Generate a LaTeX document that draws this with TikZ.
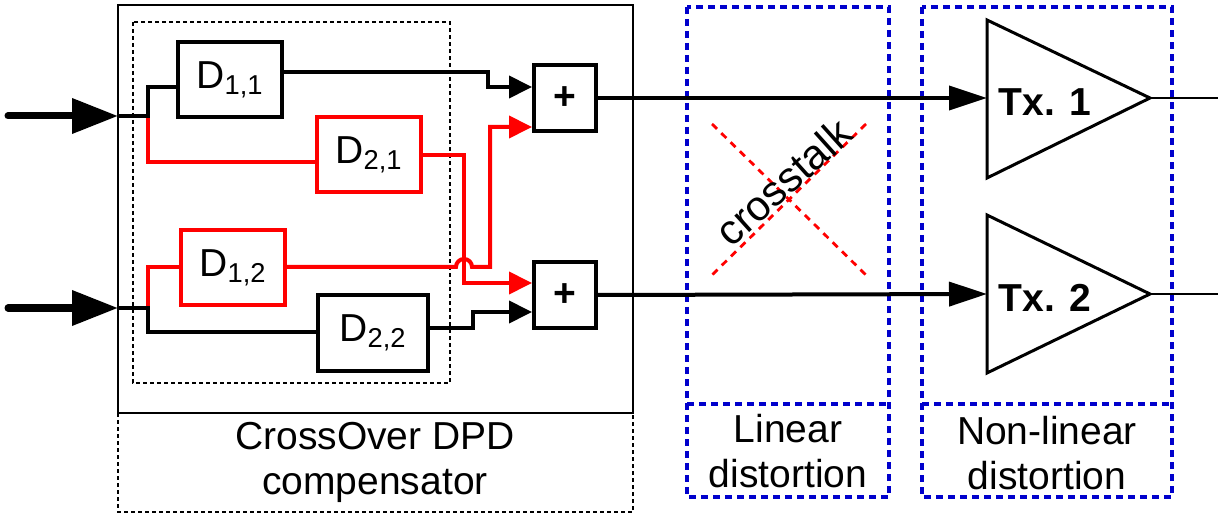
\documentclass[tikz,border=0pt]{standalone}
\usepackage{fontspec}
\setmainfont{Liberation Sans}
\usetikzlibrary{arrows.meta,calc}

\definecolor{boxblue}{RGB}{0,0,204}

\tikzset{
  wire/.style={line width=2pt},
  redwire/.style={line width=2pt,red},
  tipin/.style={-{Triangle[length=11.5pt,width=11pt]}},
  tipbig/.style={-{Triangle[length=19pt,width=12pt]}},
  inarrow/.style={line width=3.5pt,line cap=round,-{Triangle[length=23pt,width=17pt]}},
  dbox/.style={draw,line width=2pt,minimum width=52pt,minimum height=37.5pt,inner sep=0pt},
  sumbox/.style={draw,line width=2pt,minimum width=31pt,minimum height=33pt,inner sep=0pt,font=\fontsize{19.5}{22}\selectfont\bfseries},
  dotbox/.style={line width=1pt,dash pattern=on 2pt off 1.5pt},
  bluebox/.style={boxblue,line width=1.6pt,dash pattern=on 3.5pt off 2.5pt}
}

\begin{document}
\begin{tikzpicture}[x=0.5pt,y=-0.5pt,font=\fontsize{19.5}{22.5}\selectfont]

\useasboundingbox (0,0) rectangle (1228,519);

% Compensator frame and caption
\draw[dotbox] (118,413) rectangle (633,512);
\draw[line width=1pt] (118,5) rectangle (633,413);
\draw[dotbox] (133,22) rectangle (450,383);
\node[align=center] (cap) at (375,462) {CrossOver DPD\\compensator};

% Distortion regions
\draw[bluebox] (687,7) rectangle (889,497);
\draw[bluebox] (687,404) -- (889,404);
\node[align=center] (lin) at (788,451) {Linear\\distortion};
\draw[bluebox] (922,7) rectangle (1172,497);
\draw[bluebox] (922,404) -- (1172,404);
\node[align=center] (nonlin) at (1047,453) {Non-linear\\distortion};

% Crosstalk mark
\draw[red,line width=1.4pt,dash pattern=on 3.5pt off 3pt] (712,124) -- (866,275);
\draw[red,line width=1.4pt,dash pattern=on 3.5pt off 3pt] (866,124) -- (712,275);
\node[rotate=42,font=\fontsize{21}{24}\selectfont] (xtalk) at (783,182) {crosstalk};

% Filter blocks
\node[dbox] (D11) at (230,80) {D\textsubscript{1,1}};
\node[dbox,red] (D21) at (369,155) {\color{black}D\textsubscript{2,1}};
\node[dbox,red] (D12) at (233,268) {\color{black}D\textsubscript{1,2}};
\node[dbox,minimum width=55pt] (D22) at (373,333) {D\textsubscript{2,2}};

% Adders
\node[sumbox] (s1) at (565,98) {+};
\node[sumbox] (s2) at (565,295) {+};

% Transmitters
\coordinate (tx1in) at (987,98);
\coordinate (tx1out) at (1150,98);
\coordinate (tx2in) at (987,294);
\coordinate (tx2out) at (1150,294);
\draw[line width=1.5pt] (987,20) -- (tx1out) -- (987,178) -- cycle;
\draw[line width=1.5pt] (987,215) -- (tx2out) -- (987,373) -- cycle;
\node[font=\fontsize{19.5}{22.5}\selectfont\bfseries] (tx1) at (1045,102) {Tx. 1};
\node[font=\fontsize{19.5}{22.5}\selectfont\bfseries] (tx2) at (1045,298) {Tx. 2};
\coordinate (out1) at (1218,98);
\coordinate (out2) at (1218,294);
\draw[line width=1pt] (tx1out) -- (out1);
\draw[line width=1pt] (tx2out) -- (out2);

% Inputs and branch points
\coordinate (in1) at (8,116);
\coordinate (e1) at (118,116);
\coordinate (j1) at (148,116);
\coordinate (in2) at (8,308);
\coordinate (e2) at (118,308);
\coordinate (j2) at (148,308);
\draw[inarrow] (in1) -- (e1);
\draw[inarrow] (in2) -- (e2);

% Branches into the filters
\draw[redwire] (j1) |- (D21.west |- 0,162);
\draw[redwire] (j2) |- (D12.west |- 0,267);
\draw[wire] (e1) -- (j1) |- (D11.west |- 0,87);
\draw[wire] (e2) -- (j2) |- (D22.west |- 0,332);

% Filters to adders
\draw[wire,tipin] (D11.east |- 0,72) -- (488,72) |- (s1.west |- 0,87);
\draw[wire,tipin] (D22.east |- 0,328) -- (473,328) |- (s2.west |- 0,312);
\draw[redwire,tipin] (D21.east |- 0,155) -- (464,155) |- (s2.west |- 0,283);
\draw[redwire,tipin] (D12.east |- 0,267) -- (456,267)
  arc[start angle=180,end angle=360,radius=8] -- (490,267) |- (s1.west |- 0,127);

% Adders to transmitters
\draw[wire,tipbig] (s1.east) -- (tx1in);
\draw[wire,tipbig] (s2.east) -- (tx2in);

\end{tikzpicture}
\end{document}
